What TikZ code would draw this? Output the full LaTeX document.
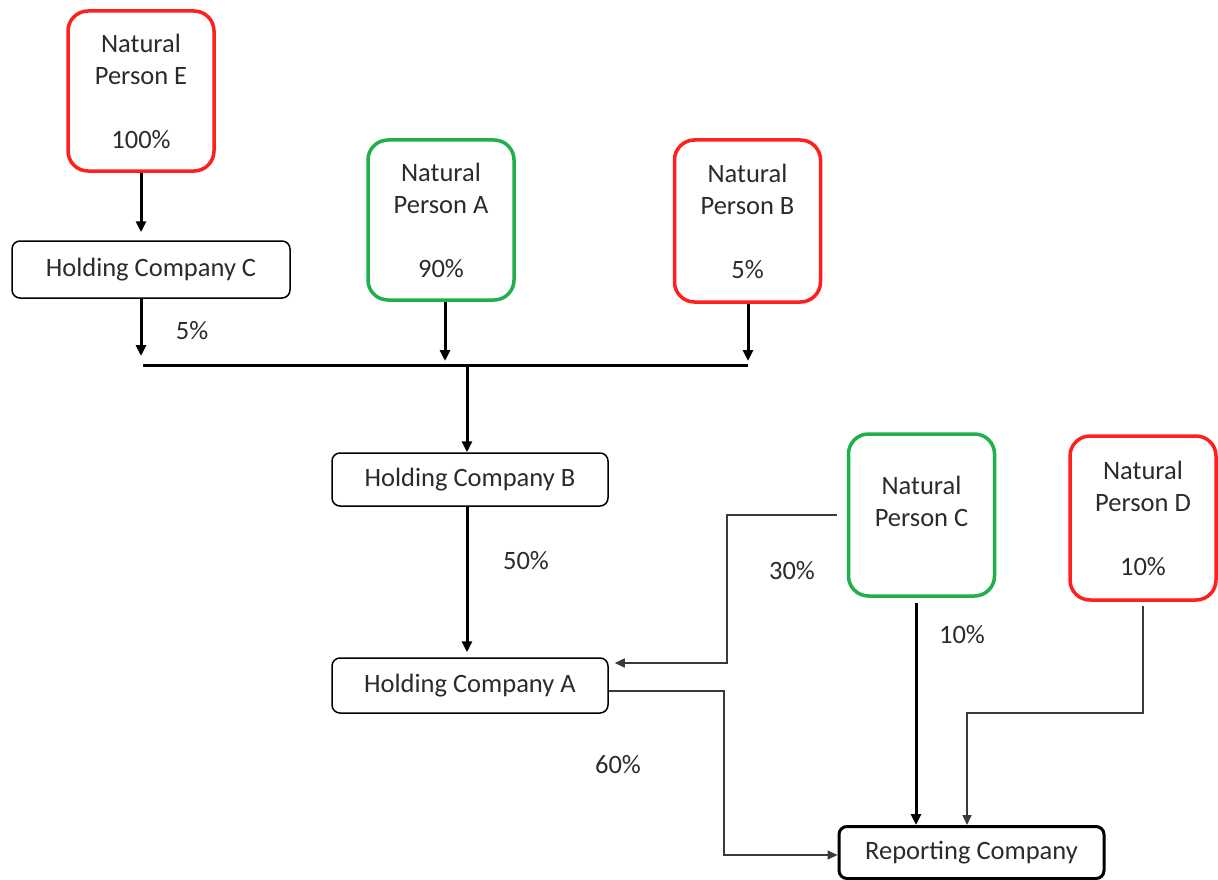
\documentclass[tikz,border=0pt]{standalone}
\usepackage{fontspec}
\setmainfont{Carlito}
\usetikzlibrary{arrows.meta}
\definecolor{ownred}{HTML}{FF1F1F}
\definecolor{owngreen}{HTML}{1FAF4B}
\definecolor{txt}{HTML}{2B2B2B}
\definecolor{thinline}{HTML}{3A3A3A}
\begin{document}
\begin{tikzpicture}[x=1pt,y=1pt,
  every node/.style={font=\fontsize{26.5}{32}\selectfont, text=txt},
  personbox/.style={draw=#1, line width=3.5pt, rounded corners=20pt, minimum width=146pt, inner sep=0pt},
  companybox/.style={draw=black, line width=1.5pt, rounded corners=8pt, inner sep=0pt},
  reportbox/.style={draw=black, line width=3pt, rounded corners=8pt, inner sep=0pt, minimum width=265pt, minimum height=52pt},
  multiline/.style={align=center, inner sep=0pt},
  share/.style={inner sep=0pt},
  thickarrow/.style={line width=3pt, -{Triangle[length=11pt,width=10pt]}},
  thinarrow/.style={line width=1.6pt, draw=thinline, -{Triangle[length=10pt,width=9pt]}},
  busline/.style={line width=3pt}
]
\useasboundingbox (0,0) rectangle (1218,-880);

% natural persons
\node[personbox=ownred, minimum height=160pt] (npe) at (141,-91) {};
\node[multiline] at (npe.center) {Natural\\Person E\\ \\100\%};
\node[personbox=owngreen, minimum height=160pt] (npa) at (441,-220) {};
\node[multiline] at (npa.center) {Natural\\Person A\\ \\90\%};
\node[personbox=ownred, minimum height=162pt] (npb) at (747.5,-221) {};
\node[multiline] at (npb.center) {Natural\\Person B\\ \\5\%};
\node[personbox=owngreen, minimum height=162pt] (npc) at (921.5,-515) {};
\node[multiline] at (921.5,-501) {Natural\\Person C};
\node[personbox=ownred, minimum height=164pt] (npd) at (1143,-518) {};
\node[multiline] at (npd.center) {Natural\\Person D\\ \\10\%};

% holding companies
\node[companybox, minimum width=278pt, minimum height=57pt] (hcc) at (151,-269.5) {Holding Company C};
\node[companybox, minimum width=276pt, minimum height=53pt] (hcb) at (470,-479.5) {Holding Company B};
\node[companybox, minimum width=276pt, minimum height=55pt] (hca) at (470,-685.5) {Holding Company A};

% reporting company
\node[reportbox] (rc) at (971.5,-852.5) {Reporting Company};

% junction coordinates
\coordinate (barL) at (143,-365);
\coordinate (barR) at (748,-365);
\coordinate (barMid) at (467,-365);
\coordinate (hccIn) at (141,-356);
\coordinate (npaIn) at (445,-361);
\coordinate (npbIn) at (748,-361);

% ownership connectors
\draw[thickarrow, shorten >=8pt] (npe.south) -- (hcc.north -| npe.south);
\draw[thickarrow] (hcc.south -| hccIn) -- (hccIn);
\draw[thickarrow] (npa.south -| npaIn) -- (npaIn);
\draw[thickarrow] (npb.south -| npbIn) -- (npbIn);
\draw[busline] (barL) -- (barR);
\draw[thickarrow] (barMid) -- (hcb.north -| barMid);
\draw[thickarrow, shorten >=5pt] (hcb.south -| barMid) -- (hca.north -| barMid);

\draw[thinarrow, shorten <=10pt, shorten >=6pt] (npc.west) -- (727,-515) -- (727,-663) -- (hca.east |- 0,-663);
\draw[thinarrow] (hca.east |- 0,-691) -- (724,-691) -- (724,-855) -- (rc.west |- 0,-855);
\draw[thickarrow, shorten <=6pt] (916,-597) -- (rc.north -| 916,0);
\draw[thinarrow, shorten <=4pt] (npd.south -| 1143,0) -- (1143,-713) -- (967,-713) -- (rc.north -| 967,0);

% percentages
\node[share] at (192,-331) {5\%};
\node[share] at (526,-561) {50\%};
\node[share] at (792,-571) {30\%};
\node[share] at (962,-635) {10\%};
\node[share] at (618,-765) {60\%};
\end{tikzpicture}
\end{document}
